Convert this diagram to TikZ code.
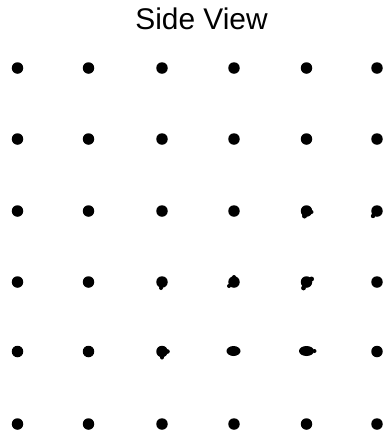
\documentclass[tikz,border=0pt]{standalone}
\usepackage{fontspec}
\setmainfont{Liberation Sans}
\usetikzlibrary{shapes.geometric}
\begin{document}
\begin{tikzpicture}[x=1bp,y=-1bp,
  dot/.style={circle,fill=black,draw=none,inner sep=0pt,minimum size=11.5bp},
  odot/.style={ellipse,fill=black,draw=none,inner sep=0pt,minimum width=14bp,minimum height=10bp},
  titletext/.style={font=\fontsize{30}{36}\selectfont,anchor=base,inner sep=0pt}]
\useasboundingbox (0,0) rectangle (384,432);
\node[titletext] (title) at (201.5,29) {Side View};
% grid of dots
\foreach \c/\xx in {1/17.5,2/88.5,3/162,4/234,5/306.5,6/377}{
  \foreach \r/\yy in {1/68,2/139,3/211,4/282,6/424}{
    \node[dot] (d\r\c) at (\xx,\yy) {};
  }
}
\node[dot] (d51) at (17.5,351.5) {};
\node[dot] (d52) at (88.5,351.5) {};
\node[dot] (d53) at (162,351.5) {};
\node[odot] (d54) at (233.5,351) {};
\node[odot,minimum width=15bp] (d55) at (306.5,351) {};
\node[dot] (d56) at (377,351.5) {};
% irregular blobs
\fill ([shift={(-2,5)}]d35.center) circle (2.5);
\fill ([shift={(5,1)}]d35.center) circle (2);
\fill ([shift={(-4,5)}]d36.center) circle (2.2);
\fill ([shift={(-1,6)}]d43.center) circle (2);
\fill ([shift={(0,-5)}]d44.center) circle (2);
\fill ([shift={(-5,4)}]d44.center) circle (2);
\fill ([shift={(-3,6)}]d45.center) circle (2.4);
\fill ([shift={(5,-3)}]d45.center) circle (2.5);
\fill ([shift={(0,6)}]d53.center) circle (2);
\fill ([shift={(5.5,0)}]d53.center) circle (2.3);
\fill ([shift={(8,0)}]d55.center) circle (2);
\end{tikzpicture}
\end{document}
